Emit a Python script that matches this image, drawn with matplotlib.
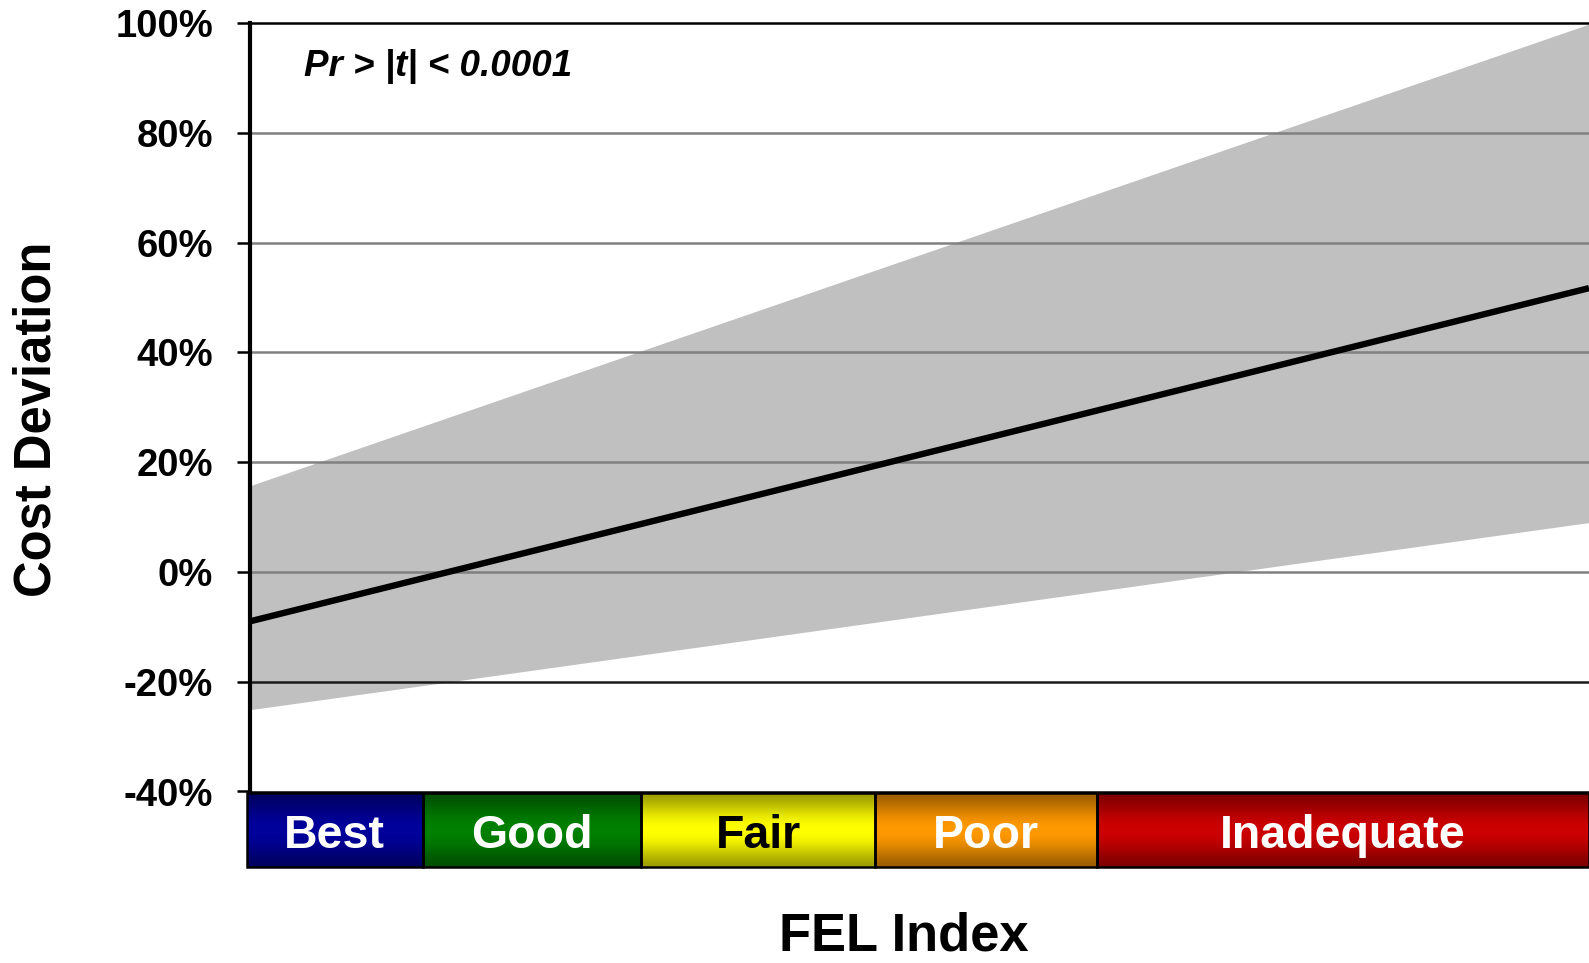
import numpy as np
import matplotlib
matplotlib.use("Agg")
import matplotlib.pyplot as plt
from matplotlib.patches import Rectangle
from matplotlib.ticker import FuncFormatter

plt.rcParams['font.family'] = ['Liberation Sans', 'DejaVu Sans']
plt.rcParams['font.weight'] = 'bold'

# regression of cost deviation (%) on FEL index, with its band
fel_ends = [3.0, 12.0]
fit_line = [-9.0, 51.7]
band_upper = [15.7, 99.8]
band_lower = [-25.1, 9.0]

y_ticks = [-40, -20, 0, 20, 40, 60, 80, 100]

# FEL rating zones along the x axis
zone_names = ['Best', 'Good', 'Fair', 'Poor', 'Inadequate']
zone_edges = [3.0, 4.16, 5.63, 7.20, 8.69, 12.0]
zone_colors = ['#00009c', '#008000', '#ffff00', '#ff9900', '#cc0000']
zone_text = ['white', 'white', 'black', 'white', 'white']

W, H = 1589, 963
fig = plt.figure(figsize=(W / 100, H / 100), dpi=100)

# main axes, pixel box 250..1589 x 23..791.5
ax_l, ax_t, ax_b = 250, 23, 791.5
ax = fig.add_axes([ax_l / W, 1 - ax_b / H, (W - ax_l) / W, (ax_b - ax_t) / H])
ax.set_xlim(fel_ends)
ax.set_ylim(-40, 100)

ax.fill_between(fel_ends, band_lower, band_upper, color='#c0c0c0', lw=0, zorder=1)
for v in y_ticks[1:-1]:
    col = '#1a1a1a' if v == -20 else '#808080'
    ax.axhline(v, color=col, lw=1.8, zorder=2)
ax.plot(fel_ends, fit_line, color='black', lw=4.6, solid_capstyle='butt', zorder=3)

ax.set_yticks(y_ticks)
ax.yaxis.set_major_formatter(FuncFormatter(lambda v, p: '%d%%' % v))
ax.tick_params(axis='y', labelsize=27.5, length=9.5, width=1.8, pad=17, direction='out')
ax.tick_params(axis='x', bottom=False, labelbottom=False)
for lab in ax.get_yticklabels():
    lab.set_fontweight('bold')
ax.spines['right'].set_visible(False)
ax.spines['left'].set_linewidth(3.0)
ax.spines['top'].set_linewidth(1.8)
ax.spines['bottom'].set_linewidth(1.8)
ax.spines['left'].set_zorder(5)

ax.text((304 - ax_l) / (W - ax_l), 1 - (66 - ax_t) / (ax_b - ax_t), 'Pr > |t| < 0.0001',
        transform=ax.transAxes, fontsize=26.5, fontstyle='italic', fontweight='bold',
        ha='left', va='center')

# zone bar under the plot, pixel box 246.7..1589 x 793..867
bl, bt, bb = 246.7, 793, 867
bax = fig.add_axes([bl / W, 1 - bb / H, (W - bl) / W, (bb - bt) / H])
units_per_px = (fel_ends[1] - fel_ends[0]) / (W - ax_l)
x_start = fel_ends[0] - (ax_l - bl) * units_per_px
bax.axis('off')

t = np.linspace(-1, 1, 120)
shade = 0.62 + 0.38 * np.cos(t * np.pi / 2) ** 1.5
for i, name in enumerate(zone_names):
    x0 = zone_edges[i] if i > 0 else x_start
    x1 = zone_edges[i + 1]
    rgb = np.array(matplotlib.colors.to_rgb(zone_colors[i]))
    img = shade[:, None, None] * rgb[None, None, :]
    bax.imshow(img, extent=[x0, x1, 0, 1], aspect='auto', interpolation='bilinear', zorder=1)
    bax.add_patch(Rectangle((x0, 0), x1 - x0, 1, fill=False, ec='black', lw=1.8,
                            clip_on=False, zorder=2))
    bax.text((x0 + x1) / 2, 0.257, name, color=zone_text[i], fontsize=33.5,
             fontweight='bold', ha='center', va='baseline', zorder=3)
bax.set_xlim(x_start, fel_ends[1])
bax.set_ylim(0, 1)

fig.text(37.5 / W, 1 - 419 / H, 'Cost Deviation', rotation=90, fontsize=36.5,
         fontweight='bold', ha='center', va='center')
fig.text(904 / W, 1 - 950 / H, 'FEL Index', fontsize=37.8, fontweight='bold',
         ha='center', va='baseline')

fig.savefig('out.png', dpi=100)
